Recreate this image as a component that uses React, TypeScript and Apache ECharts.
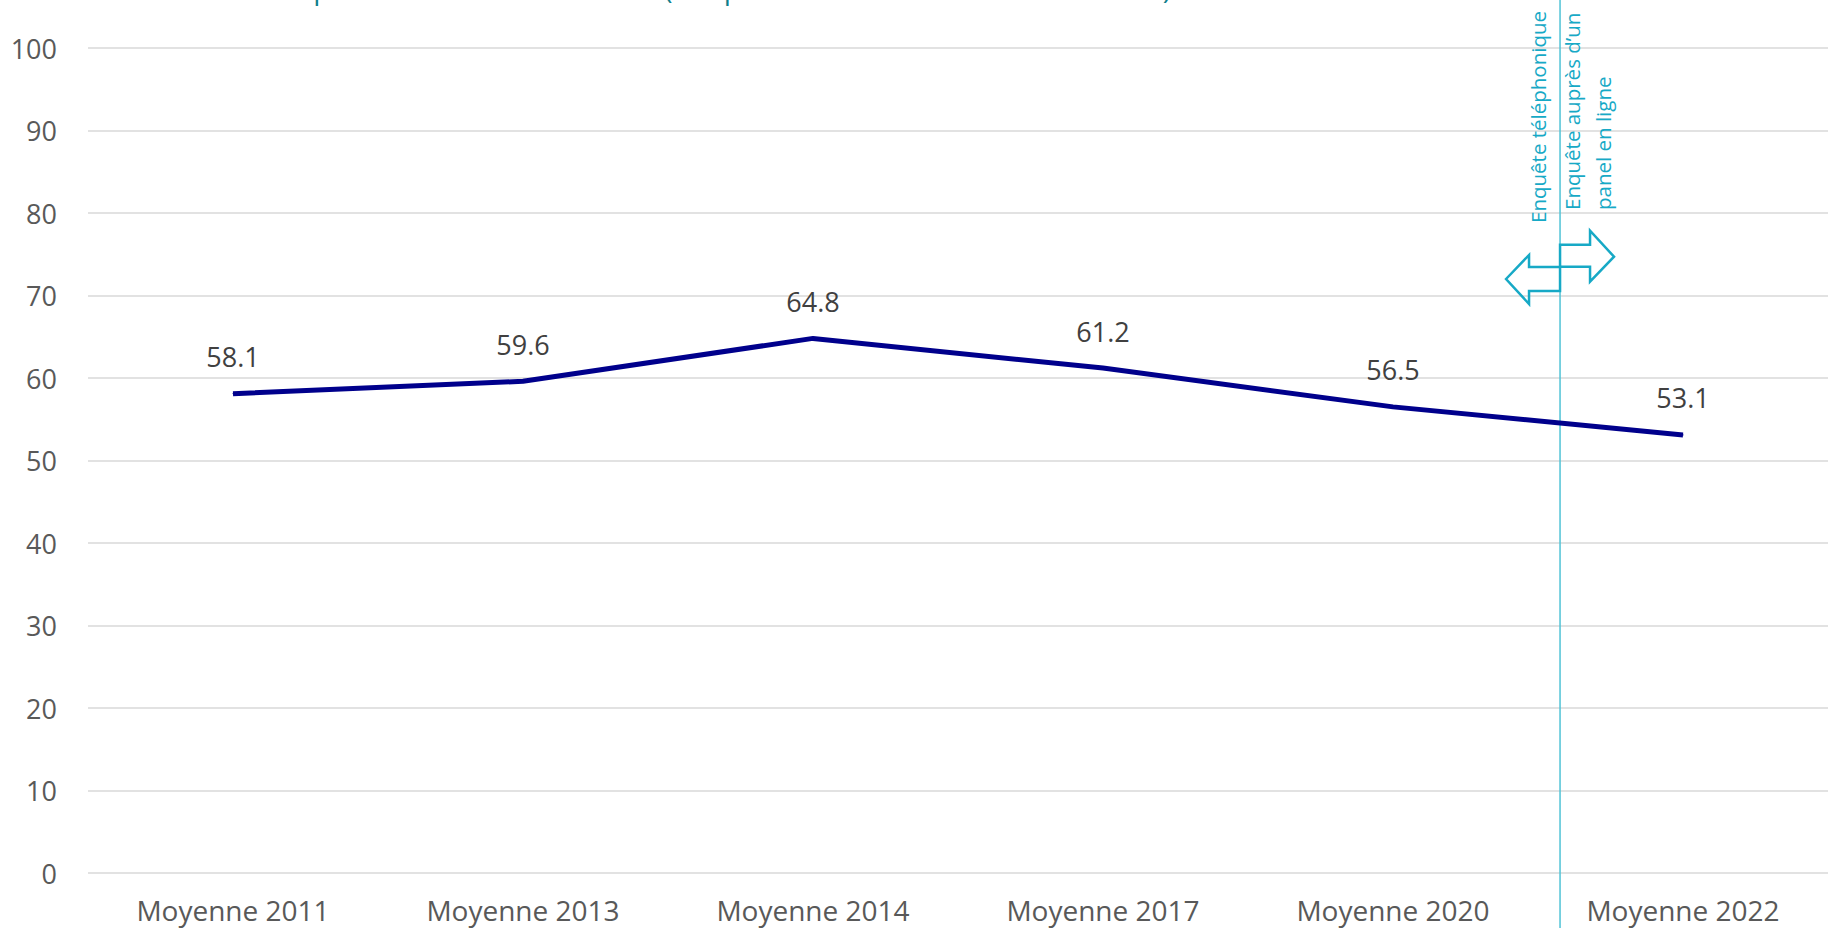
import React, { useEffect, useRef } from "react";
import * as echarts from "echarts";

const categories = [
  "Moyenne 2011",
  "Moyenne 2013",
  "Moyenne 2014",
  "Moyenne 2017",
  "Moyenne 2020",
  "Moyenne 2022",
];
const values = [58.1, 59.6, 64.8, 61.2, 56.5, 53.1];
const yMin = 0;
const yMax = 100;
const yInterval = 10;
// position of the survey-mode change, on a 0..6 scale spanning the categories
const modeSwitchPosition = 5.076;
const leftLabel = "Enquête téléphonique";
const rightLabel = "Enquête auprès d’un\npanel en ligne";
const titleText =
  "Ont fait confiance à la qualité des services rendus (ou quelle autre instance de leur choix) :";

const FONT = "'Open Sans', 'Noto Sans', sans-serif";
const ANNOT = "#17A9C6";

export default function App() {
  const ref = useRef<HTMLDivElement>(null);
  useEffect(() => {
    document.body.style.margin = "0";
    const chart = echarts.init(ref.current as HTMLDivElement, null, {
      renderer: "svg",
    });
    chart.setOption({
      animation: false,
      backgroundColor: "#ffffff",
      grid: { left: 88, right: 6, top: 48, bottom: 55, containLabel: false },
      xAxis: [
        {
          type: "category",
          data: categories,
          boundaryGap: true,
          axisLine: { show: false },
          axisTick: { show: false },
          axisLabel: {
            margin: 23,
            fontSize: 28,
            color: "#595959",
            fontFamily: FONT,
          },
        },
        { type: "value", min: 0, max: 6, show: false },
      ],
      yAxis: {
        type: "value",
        min: yMin,
        max: yMax,
        interval: yInterval,
        axisLine: { show: false },
        axisTick: { show: false },
        axisLabel: {
          margin: 31,
          fontSize: 27,
          color: "#595959",
          fontFamily: FONT,
        },
        splitLine: { lineStyle: { color: "#D9D9D9", width: 1.5 } },
      },
      series: [
        {
          type: "line",
          data: values,
          symbol: "circle",
          symbolSize: 1,
          showSymbol: true,
          lineStyle: { color: "#00008C", width: 5 },
          itemStyle: { color: "#00008C" },
          label: {
            show: true,
            position: "top",
            distance: 23,
            fontSize: 27,
            color: "#404040",
            fontFamily: FONT,
            formatter: (p: any) => Number(p.value).toFixed(1),
          },
        },
      ],
    });

    const lx = chart.convertToPixel({ xAxisIndex: 1 } as any, modeSwitchPosition) as number;
    const yL = chart.convertToPixel({ yAxisIndex: 0 } as any, 72) as number;
    const yR = chart.convertToPixel({ yAxisIndex: 0 } as any, 74.7) as number;

    chart.setOption({
      graphic: [
        {
          type: "text",
          left: 12,
          top: -26,
          style: {
            text: titleText,
            fontSize: 28,
            fontFamily: FONT,
            fill: "#0F7F8C",
          },
          silent: true,
        },
        {
          type: "line",
          shape: { x1: lx, y1: 0, x2: lx, y2: 928 },
          style: { stroke: "#4FC3D6", lineWidth: 1.5 },
          silent: true,
        },
        {
          type: "polygon",
          shape: {
            points: [
              [lx - 54, yL],
              [lx - 31, yL - 24],
              [lx - 31, yL - 12],
              [lx, yL - 12],
              [lx, yL + 12],
              [lx - 31, yL + 12],
              [lx - 31, yL + 25],
            ],
          },
          style: { fill: "none", stroke: ANNOT, lineWidth: 2.5 },
          silent: true,
        },
        {
          type: "polygon",
          shape: {
            points: [
              [lx, yR - 12],
              [lx + 30, yR - 12],
              [lx + 30, yR - 26],
              [lx + 54, yR],
              [lx + 30, yR + 25],
              [lx + 30, yR + 10],
              [lx, yR + 10],
            ],
          },
          style: { fill: "none", stroke: ANNOT, lineWidth: 2.5 },
          silent: true,
        },
        {
          type: "text",
          x: lx - 22,
          y: 223,
          rotation: Math.PI / 2,
          style: {
            text: leftLabel,
            fontSize: 20.5,
            fontFamily: FONT,
            fill: ANNOT,
            align: "left",
            verticalAlign: "middle",
          },
          silent: true,
        },
        {
          type: "text",
          x: lx + 27,
          y: 210,
          rotation: Math.PI / 2,
          style: {
            text: rightLabel,
            fontSize: 20.5,
            lineHeight: 31,
            fontFamily: FONT,
            fill: ANNOT,
            align: "left",
            verticalAlign: "middle",
          },
          silent: true,
        },
      ],
    });
    return () => chart.dispose();
  }, []);
  return <div ref={ref} style={{ width: 1834, height: 928 }} />;
}
